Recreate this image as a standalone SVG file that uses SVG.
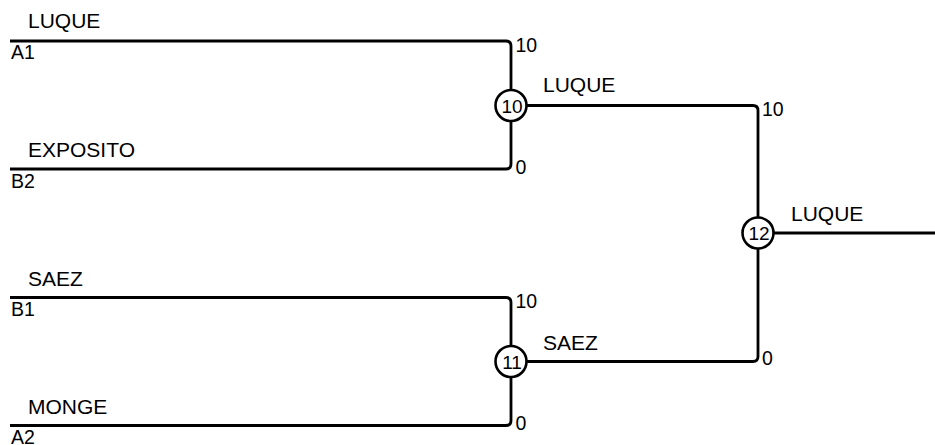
<svg xmlns="http://www.w3.org/2000/svg" width="935" height="445" viewBox="0 0 935 445">
<style>
.ln{fill:none;stroke:#000;stroke-width:2.8;stroke-linejoin:round}
.nd{fill:#fff;stroke:#000;stroke-width:2.6}
text{font-family:"Liberation Sans",Arial,sans-serif;fill:#000}
.nm{font-size:21px}
.sd{font-size:19.5px}
.sc{font-size:19.5px}
.ct{font-size:19px;text-anchor:middle}
</style>
<rect width="935" height="445" fill="#fff"/>
<g id="connectors">
<path class="ln" d="M10,41 H506 Q511,41 511,46 V90"/>
<path class="ln" d="M10,169 H506 Q511,169 511,164 V121"/>
<path class="ln" d="M10,297.5 H506 Q511,297.5 511,302.5 V346"/>
<path class="ln" d="M10,425.5 H506 Q511,425.5 511,420.5 V377"/>
<path class="ln" d="M527,105.5 H753 Q758,105.5 758,110.5 V217"/>
<path class="ln" d="M527,361.5 H753 Q758,361.5 758,356.5 V249"/>
<path class="ln" d="M774,233 H935"/>
</g>
<g id="entry-A1">
<text class="nm" x="28" y="28">LUQUE</text>
<text class="sd" x="11" y="59">A1</text>
</g>
<g id="entry-B2">
<text class="nm" x="28" y="157">EXPOSITO</text>
<text class="sd" x="11" y="187.5">B2</text>
</g>
<g id="entry-B1">
<text class="nm" x="28" y="286">SAEZ</text>
<text class="sd" x="11" y="315.5">B1</text>
</g>
<g id="entry-A2">
<text class="nm" x="28" y="414">MONGE</text>
<text class="sd" x="11" y="443.5">A2</text>
</g>
<g id="match-10">
<circle class="nd" cx="511" cy="105.5" r="15.5"/>
<text class="ct" x="512" y="112.5">10</text>
<text class="sc" x="515.5" y="52">10</text>
<text class="sc" x="515.5" y="173.5">0</text>
<text class="nm" x="543" y="92">LUQUE</text>
</g>
<g id="match-11">
<circle class="nd" cx="511" cy="361.5" r="15.5"/>
<text class="ct" x="512" y="368.5">11</text>
<text class="sc" x="515.5" y="308">10</text>
<text class="sc" x="515.5" y="429.5">0</text>
<text class="nm" x="543" y="350">SAEZ</text>
</g>
<g id="match-12">
<circle class="nd" cx="758" cy="233" r="15.5"/>
<text class="ct" x="759" y="240">12</text>
<text class="sc" x="762" y="116">10</text>
<text class="sc" x="762" y="365">0</text>
<text class="nm" x="791" y="221">LUQUE</text>
</g>
</svg>
